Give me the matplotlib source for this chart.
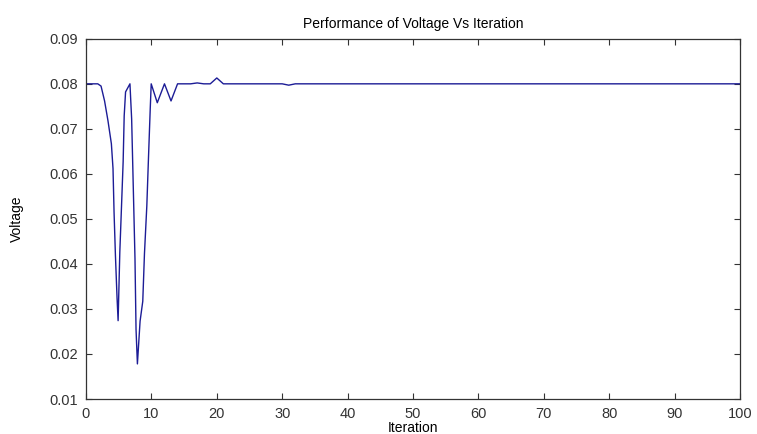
import numpy as np
import matplotlib.pyplot as plt

# iteration vs voltage
iteration = [0, 1, 1.8, 2.3, 2.84, 3.36, 3.88, 4.13, 4.29, 4.5, 4.75, 4.91,
             5.17, 5.43, 5.68, 5.84, 6.05, 6.72, 6.98, 7.49, 7.65, 7.86,
             8.27, 8.68, 8.94, 9.3, 9.56, 9.82, 9.97, 10.9, 12, 13, 14, 15,
             16, 17, 18, 19, 20, 21, 22, 25, 30, 31, 32, 40, 60, 80, 100]
voltage = [0.08, 0.08, 0.08, 0.0795, 0.0762, 0.0718, 0.0667, 0.0612, 0.0515,
           0.0419, 0.0324, 0.0274, 0.0426, 0.0528, 0.0627, 0.0729, 0.0782,
           0.08, 0.0722, 0.0412, 0.0255, 0.0178, 0.0273, 0.0317, 0.0423,
           0.0529, 0.0638, 0.0744, 0.08, 0.0758, 0.08, 0.0762, 0.08, 0.08,
           0.08, 0.0802, 0.08, 0.08, 0.0813, 0.08, 0.08, 0.08, 0.08, 0.0797,
           0.08, 0.08, 0.08, 0.08, 0.08]

plt.rcParams['font.family'] = 'Liberation Sans'

fig = plt.figure(figsize=(7.57, 4.34), dpi=100)
ax = fig.add_axes([0.1136, 0.0806, 0.864, 0.830])
ax.plot(iteration, voltage, color='#1c1c96', linewidth=1.0)

ax.set_xlim(0, 100)
ax.set_ylim(0.01, 0.09)
ax.set_xticks(np.arange(0, 101, 10))
ax.set_yticks(np.arange(0.01, 0.091, 0.01))
ax.set_yticklabels(['%.2f' % v for v in np.arange(0.01, 0.091, 0.01)])
ax.tick_params(direction='in', top=True, right=True, labelsize=10.5,
               length=4, pad=6, colors='#333333')
for s in ax.spines.values():
    s.set_linewidth(0.9)
    s.set_color('#333333')

ax.set_title('Performance of Voltage Vs Iteration', fontsize=10, pad=8)
ax.set_xlabel('Iteration', fontsize=10, labelpad=0)
ax.set_ylabel('Voltage', fontsize=10, labelpad=18)

fig.savefig('out.png')
